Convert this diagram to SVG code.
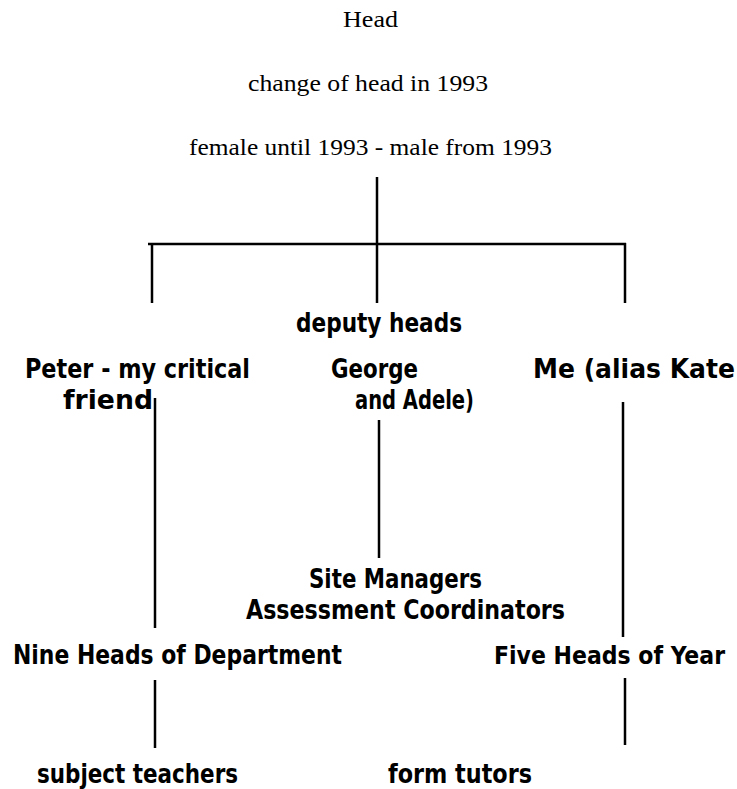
<svg xmlns="http://www.w3.org/2000/svg" width="737" height="789" viewBox="0 0 737 789">
<style>
.s{font-family:"Liberation Serif","DejaVu Serif",serif;font-size:23px;fill:#000}
.b{font-family:"DejaVu Sans Condensed","DejaVu Sans",sans-serif;font-stretch:condensed;font-weight:bold;font-size:27px;fill:#000}
.c line{stroke:#000;stroke-width:2.5}
</style>
<rect width="737" height="789" fill="#fff"/>
<g id="head">
<text class="s" x="343" y="27" textLength="55" lengthAdjust="spacingAndGlyphs">Head</text>
<text class="s" x="248" y="91" textLength="240" lengthAdjust="spacingAndGlyphs">change of head in 1993</text>
<text class="s" x="189" y="155" textLength="363" lengthAdjust="spacingAndGlyphs">female until 1993 - male from 1993</text>
</g>
<g id="deputies">
<text class="b" x="296" y="332" textLength="166" lengthAdjust="spacingAndGlyphs">deputy heads</text>
</g>
<g id="peter">
<text class="b" x="25" y="378" textLength="225" lengthAdjust="spacingAndGlyphs">Peter - my critical</text>
<text class="b" x="63" y="409" textLength="90" lengthAdjust="spacingAndGlyphs">friend</text>
</g>
<g id="george">
<text class="b" x="331" y="378" textLength="87" lengthAdjust="spacingAndGlyphs">George</text>
<text class="b" x="355" y="409" textLength="119" lengthAdjust="spacingAndGlyphs">and Adele)</text>
</g>
<g id="me">
<text class="b" x="533" y="378" textLength="202" lengthAdjust="spacingAndGlyphs">Me (alias Kate</text>
</g>
<g id="site">
<text class="b" x="309" y="588" textLength="173" lengthAdjust="spacingAndGlyphs">Site Managers</text>
<text class="b" x="246" y="619" textLength="319" lengthAdjust="spacingAndGlyphs">Assessment Coordinators</text>
</g>
<g id="hod">
<text class="b" x="13" y="664" textLength="329" lengthAdjust="spacingAndGlyphs">Nine Heads of Department</text>
</g>
<g id="hoy">
<text class="b" x="494" y="664" textLength="231" lengthAdjust="spacingAndGlyphs" style="font-size:25px">Five Heads of Year</text>
</g>
<g id="teachers">
<text class="b" x="37" y="783" textLength="201" lengthAdjust="spacingAndGlyphs">subject teachers</text>
</g>
<g id="tutors">
<text class="b" x="388" y="783" textLength="144" lengthAdjust="spacingAndGlyphs">form tutors</text>
</g>
<g id="connectors" class="c">
<line x1="377" y1="177" x2="377" y2="303"/>
<line x1="148" y1="244" x2="626" y2="244"/>
<line x1="152" y1="243" x2="152" y2="303"/>
<line x1="625" y1="243" x2="625" y2="303"/>
<line x1="155" y1="398" x2="155" y2="628"/>
<line x1="379" y1="420" x2="379" y2="558"/>
<line x1="623" y1="402" x2="623" y2="637"/>
<line x1="155" y1="680" x2="155" y2="748"/>
<line x1="625" y1="678" x2="625" y2="745"/>
</g>
</svg>
